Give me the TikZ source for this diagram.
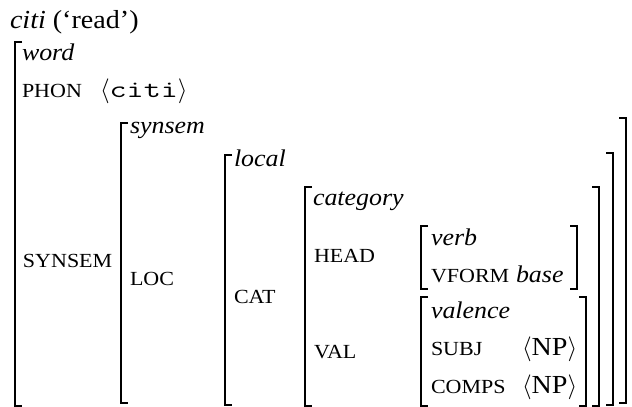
\documentclass[tikz,border=0pt]{standalone}
\usepackage{fontspec}
\setmainfont{Liberation Serif}[FakeStretch=1.08]
\newfontfamily\scfont{Liberation Serif}[FakeStretch=1.1]
\newfontfamily\codefont{Latin Modern Mono}[FakeStretch=1.38]
\newcommand{\feat}[1]{{\scfont\fontsize{20}{23}\selectfont #1}}
\newcommand{\typ}[1]{\textit{#1}}
\newcommand{\angl}[1]{$\langle$#1$\rangle$}

\tikzset{
  brk/.style={line width=1.6pt, line cap=butt, line join=miter},
  lbl/.style={anchor=base west, inner sep=0pt, outer sep=0pt,
              font=\fontsize{24}{28}\selectfont},
  bigl/.style={lbl, font=\fontsize{26}{30}\selectfont},
}
% left bracket: x, top, bottom ; right bracket likewise
\newcommand{\lbrk}[3]{\draw[brk] (#1+7,#2) -- (#1,#2) -- (#1,#3) -- (#1+7,#3);}
\newcommand{\rbrk}[3]{\draw[brk] (#1-7,#2) -- (#1,#2) -- (#1,#3) -- (#1-7,#3);}

\begin{document}
\begin{tikzpicture}[x=1pt,y=-1pt]
\useasboundingbox (0,0) rectangle (632,407);

% headline
\node[bigl] (title) at (10,28) {\textit{citi} (‘read’)};

% word
\lbrk{15}{42}{406}
\node[lbl] (word) at (22,60) {\typ{word}};
\node[lbl] (phon) at (22,97) {\feat{PHON}};
\node[bigl] (phonval) at (100,97) {\angl{\codefont\fontsize{24}{28}\selectfont citi}};

% synsem
\node[lbl] (synsemf) at (23,267) {\feat{SYNSEM}};
\lbrk{121}{123}{403}
\rbrk{626}{118}{403}
\node[lbl] (synsem) at (130,133) {\typ{synsem}};

% local
\node[lbl] (loc) at (130,285) {\feat{LOC}};
\lbrk{225}{155}{405}
\rbrk{613}{153}{405}
\node[lbl] (local) at (234,166) {\typ{local}};

% category
\node[lbl] (cat) at (234,303) {\feat{CAT}};
\lbrk{305}{187}{406}
\rbrk{599}{187}{406}
\node[lbl] (category) at (313,205) {\typ{category}};

% head
\node[lbl] (head) at (314,262) {\feat{HEAD}};
\lbrk{421}{226}{289}
\rbrk{577}{226}{289}
\node[lbl] (verb) at (431,245) {\typ{verb}};
\node[lbl] (vform) at (431,282) {\feat{VFORM}};
\node[lbl] (base) at (516,282) {\typ{base}};

% valence
\node[lbl] (val) at (314,358) {\feat{VAL}};
\lbrk{421}{297}{406}
\rbrk{586}{297}{406}
\node[lbl] (valence) at (431,318) {\typ{valence}};
\node[lbl] (subj) at (431,355) {\feat{SUBJ}};
\node[bigl] (subjval) at (522,355) {\angl{NP}};
\node[lbl] (comps) at (431,393) {\feat{COMPS}};
\node[bigl] (compsval) at (522,393) {\angl{NP}};
\end{tikzpicture}
\end{document}
